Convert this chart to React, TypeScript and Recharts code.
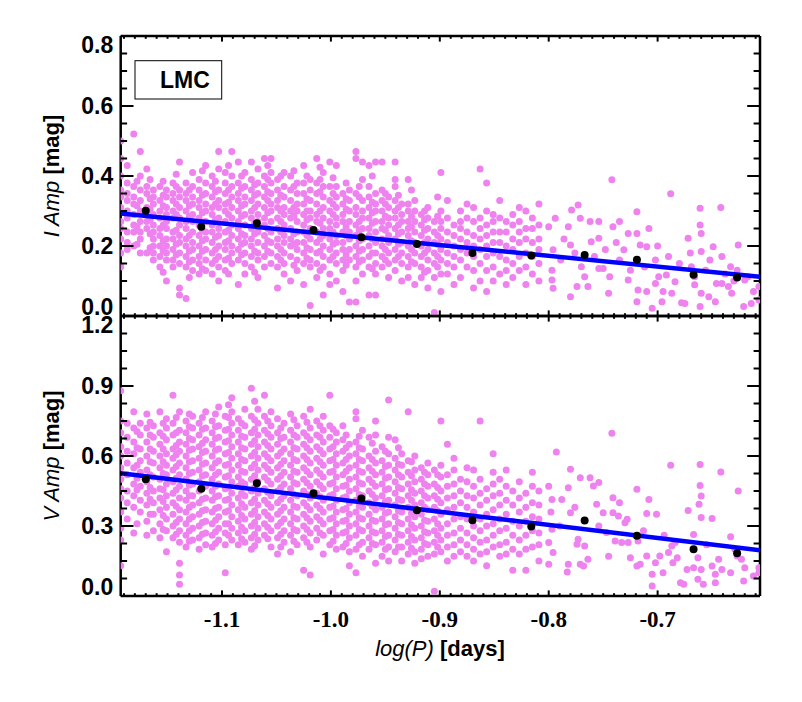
import { Scatter, ScatterChart, XAxis, YAxis } from 'recharts'

// log(P) axis range and ticks
const X_DOMAIN: [number, number] = [-1.193, -0.606]
const X_TICKS = Array.from({ length: 59 }, (_, i) => Math.round((-1.19 + i * 0.01) * 1000) / 1000)

const I_TICKS = Array.from({ length: 17 }, (_, i) => Math.round(i * 0.05 * 1000) / 1000)
const V_TICKS = Array.from({ length: 17 }, (_, i) => Math.round(i * 0.075 * 1000) / 1000)

// I amplitude, dense part: [logP, amp, amp, ...]
const I_COLS = [
  [-1.193, .50, .45, .40, .36, .34, .31, .27, .25, .22, .18, .14],
  [-1.187, .43, .38, .35, .33, .30, .28, .24, .21, .19],
  [-1.181, .52, .37, .34, .32, .29, .26, .24, .20],
  [-1.175, .47, .40, .36, .33, .30, .27, .24, .22, .18],
  [-1.169, .42, .37, .35, .31, .29, .27, .25, .18],
  [-1.163, .36, .34, .32, .29, .26, .24, .22, .20, .18, .16],
  [-1.157, .37, .33, .30, .28, .25, .23, .20, .17, .14],
  [-1.151, .36, .34, .31, .29, .27, .25, .22, .20, .18, .16, .10],
  [-1.145, .38, .35, .33, .30, .28, .24, .22, .19, .16, .14],
  [-1.139, .44, .36, .34, .31, .28, .26, .23, .21, .18, .15, .08, .06],
  [-1.133, .38, .35, .33, .30, .27, .25, .22, .20, .17, .14, .05],
  [-1.127, .41, .37, .34, .32, .29, .27, .24, .21, .19, .16, .13],
  [-1.121, .39, .36, .33, .31, .28, .26, .23, .20, .17, .15, .12],
  [-1.115, .43, .38, .35, .32, .30, .27, .24, .22, .19, .16, .13],
  [-1.109, .40, .37, .34, .31, .29, .26, .24, .21, .18, .15, .12],
  [-1.103, .47, .42, .36, .33, .31, .28, .25, .23, .20, .17, .14, .10],
  [-1.097, .41, .38, .35, .32, .30, .27, .24, .21, .19, .16, .13],
  [-1.091, .47, .40, .37, .34, .31, .28, .26, .23, .20, .18, .15],
  [-1.085, .44, .38, .35, .33, .30, .27, .25, .22, .19, .16, .09],
  [-1.079, .41, .37, .34, .32, .29, .26, .23, .21, .18, .15, .12],
  [-1.073, .44, .39, .36, .33, .30, .28, .25, .22, .20, .17, .14],
  [-1.067, .42, .38, .35, .32, .29, .27, .24, .21, .18, .16, .11],
  [-1.061, .45, .40, .37, .34, .31, .28, .26, .23, .20, .17, .14],
  [-1.055, .45, .41, .38, .35, .32, .30, .27, .24, .21, .18, .15],
  [-1.049, .39, .36, .33, .31, .28, .25, .22, .20, .17, .14, .08],
  [-1.043, .41, .37, .34, .31, .29, .26, .23, .21, .18, .15, .12],
  [-1.037, .40, .36, .33, .30, .28, .25, .22, .20, .17, .10],
  [-1.031, .38, .35, .32, .30, .27, .24, .21, .19, .16, .13],
  [-1.025, .43, .38, .35, .32, .29, .26, .24, .21, .18, .15, .09],
  [-1.019, .39, .36, .33, .30, .28, .25, .22, .19, .16, .14, .03],
  [-1.013, .45, .38, .35, .32, .29, .27, .24, .21, .18, .15, .11],
  [-1.007, .41, .37, .34, .31, .28, .25, .23, .20, .17, .14, .06],
  [-1.001, .44, .37, .33, .30, .27, .25, .22, .19, .16, .12, .09],
  [-0.995, .43, .37, .34, .31, .28, .26, .23, .21, .18, .15, .10],
  [-0.989, .35, .32, .29, .27, .24, .21, .19, .16, .13, .07],
  [-0.983, .36, .33, .30, .27, .24, .22, .19, .16, .04],
  [-0.977, .47, .45, .35, .31, .29, .26, .23, .20, .17, .14, .10, .04],
  [-0.971, .44, .39, .33, .30, .28, .25, .22, .19, .16, .12],
  [-0.965, .43, .37, .34, .31, .28, .25, .23, .20, .17, .14, .06],
  [-0.959, .44, .35, .32, .30, .27, .24, .21, .18, .15, .12, .06],
  [-0.953, .44, .36, .33, .30, .27, .25, .22, .20, .17, .14],
  [-0.947, .34, .31, .28, .26, .23, .21, .18, .15, .11],
  [-0.941, .44, .39, .37, .33, .30, .28, .25, .22, .19, .16, .13],
  [-0.935, .32, .29, .27, .24, .21, .18, .15, .10],
  [-0.929, .39, .32, .30, .27, .25, .23, .20, .17, .14, .11],
  [-0.923, .33, .30, .27, .24, .21, .18, .15, .09],
  [-0.917, .29, .26, .23, .20, .17, .14, .11],
  [-0.911, .31, .28, .25, .22, .19, .16, .13, .08],
  [-0.905, .27, .24, .21, .18, .15, .11, .01],
  [-0.899, .41, .30, .27, .25, .22, .19, .16, .12, .07],
  [-0.893, .33, .28, .24, .21, .18, .15, .12],
  [-0.887, .26, .23, .20, .17, .14, .09],
  [-0.881, .30, .27, .25, .22, .19, .16, .11],
  [-0.875, .32, .28, .24, .21, .18, .14],
  [-0.869, .31, .27, .23, .20, .17, .13, .08],
  [-0.863, .42, .28, .25, .22, .19, .15, .10],
  [-0.857, .38, .30, .26, .23, .20, .17, .13, .07],
  [-0.851, .29, .27, .24, .21, .18, .14, .10],
  [-0.845, .33, .28, .24, .21, .17, .12],
  [-0.839, .27, .24, .20, .16, .13, .09],
  [-0.833, .29, .26, .22, .19, .15, .11],
  [-0.827, .31, .27, .24, .21, .17, .13],
  [-0.821, .30, .25, .22, .18, .14, .09],
  [-0.815, .28, .25, .21, .17, .12],
  [-0.809, .32, .26, .22, .19, .15, .10],
]

// I amplitude, extra stars packed in the crowded core: [logP, amp, amp, ...]
const I_CORE = [
  [-1.178, .385, .315, .255, .205],
  [-1.166, .39, .335, .305, .275, .235, .195],
  [-1.154, .385, .345, .315, .26, .215, .185, .125],
  [-1.142, .405, .37, .32, .29, .245, .205, .175],
  [-1.130, .36, .315, .285, .23, .185, .155, .11],
  [-1.118, .415, .345, .295, .245, .215, .185, .135],
  [-1.106, .385, .355, .32, .275, .225, .19, .16],
  [-1.094, .43, .36, .325, .29, .245, .215, .165, .12],
  [-1.082, .40, .365, .315, .285, .235, .205, .175],
  [-1.070, .375, .345, .31, .265, .235, .185, .125],
  [-1.058, .43, .39, .355, .33, .295, .25, .215, .185],
  [-1.046, .40, .345, .30, .27, .24, .19, .16],
  [-1.034, .415, .37, .31, .285, .235, .205, .145],
  [-1.022, .40, .335, .30, .275, .23, .195, .165],
  [-1.010, .425, .39, .355, .30, .265, .22, .185, .13],
  [-0.998, .395, .35, .32, .29, .24, .205, .17],
  [-0.986, .38, .335, .305, .255, .23, .175, .145],
  [-0.974, .37, .34, .27, .245, .215, .185, .155],
  [-0.962, .40, .325, .295, .265, .22, .18, .135],
  [-0.950, .35, .32, .285, .245, .19, .16],
  [-0.938, .345, .31, .26, .235, .205, .17],
  [-0.926, .36, .285, .255, .215, .19, .155],
  [-0.914, .30, .275, .245, .21, .18, .125],
  [-0.902, .34, .285, .23, .205, .17, .14],
]

// I amplitude, sparse long-period stars: [logP, amp]
const I_RIGHT = [
  [-0.800, .255], [-0.794, .279], [-0.796, .189], [-0.797, .131], [-0.797, .103], [-0.796, .079],
  [-0.789, .16], [-0.786, .22], [-0.776, .18],
  [-0.782, .255], [-0.779, .303], [-0.780, .203], [-0.773, .317], [-0.771, .279], [-0.770, .141],
  [-0.767, .112], [-0.774, .084], [-0.780, .055],
  [-0.762, .27], [-0.754, .27], [-0.761, .212], [-0.754, .222], [-0.764, .084], [-0.754, .136],
  [-0.750, .136], [-0.744, .112], [-0.745, .065], [-0.742, .389], [-0.741, .255], [-0.735, .27],
  [-0.731, .189], [-0.735, .16], [-0.758, .17], [-0.748, .19], [-0.738, .21],
  [-0.727, .236], [-0.725, .131], [-0.727, .103], [-0.719, .298], [-0.719, .236], [-0.716, .203],
  [-0.710, .198], [-0.708, .25], [-0.718, .074], [-0.719, .041], [-0.710, .07], [-0.705, .022],
  [-0.702, .16], [-0.702, .093], [-0.696, .041], [-0.695, .07], [-0.699, .112], [-0.690, .17],
  [-0.692, .117], [-0.687, .065], [-0.684, .098], [-0.712, .14], [-0.700, .20],
  [-0.688, .349], [-0.678, .038], [-0.675, .036], [-0.672, .222], [-0.669, .141], [-0.666, .089],
  [-0.661, .308], [-0.661, .26], [-0.660, .236], [-0.660, .184], [-0.666, .112], [-0.660, .065],
  [-0.661, .027], [-0.656, .131], [-0.649, .198], [-0.646, .093], [-0.653, .055], [-0.647, .041],
  [-0.680, .15], [-0.670, .18], [-0.652, .16],
  [-0.642, .31], [-0.641, .17], [-0.633, .141], [-0.635, .084], [-0.641, .093], [-0.632, .065],
  [-0.626, .203], [-0.627, .131], [-0.621, .027], [-0.614, .036], [-0.607, .084], [-0.607, .046],
  [-0.617, .112], [-0.620, .103], [-0.638, .12], [-0.630, .10], [-0.612, .07],
]

// V amplitude, dense part: [logP, amp, amp, ...]
const V_COLS = [
  [-1.193, .88, .75, .70, .64, .60, .55, .50, .46, .42, .36, .29, .24, .13],
  [-1.187, .74, .68, .62, .57, .52, .45, .40, .33],
  [-1.181, .79, .72, .66, .61, .55, .48, .43, .38, .27],
  [-1.175, .74, .69, .63, .58, .53, .47, .41, .36],
  [-1.169, .78, .72, .66, .60, .54, .49, .44, .39, .32, .26],
  [-1.163, .73, .68, .62, .57, .51, .45, .40, .35, .28],
  [-1.157, .79, .70, .65, .60, .55, .50, .46, .42, .37, .31, .25],
  [-1.151, .76, .72, .67, .61, .56, .52, .48, .43, .38, .33, .28, .19],
  [-1.145, .86, .74, .69, .63, .59, .54, .49, .44, .40, .35, .30, .25],
  [-1.139, .79, .71, .66, .62, .57, .52, .47, .42, .37, .33, .28, .23, .14, .09, .05],
  [-1.133, .75, .70, .65, .60, .55, .50, .45, .41, .36, .31, .26, .21],
  [-1.127, .77, .72, .67, .63, .58, .53, .48, .43, .39, .34, .29, .24],
  [-1.121, .74, .69, .64, .59, .54, .49, .45, .40, .35, .30, .25, .20],
  [-1.115, .79, .72, .67, .62, .57, .52, .47, .42, .37, .32, .27, .22],
  [-1.109, .75, .70, .65, .60, .55, .50, .45, .41, .36, .31, .26, .21],
  [-1.103, .81, .73, .68, .63, .58, .53, .48, .43, .38, .34, .29, .24],
  [-1.097, .77, .71, .66, .61, .56, .51, .46, .41, .36, .31, .27, .22, .10],
  [-1.091, .85, .79, .74, .69, .64, .59, .54, .49, .44, .39, .34, .29, .24],
  [-1.085, .76, .71, .66, .61, .56, .51, .47, .42, .37, .32, .27, .22],
  [-1.079, .80, .73, .68, .63, .58, .53, .48, .43, .38, .33, .28, .23],
  [-1.073, .89, .77, .70, .65, .60, .55, .50, .45, .40, .35, .30, .25, .20],
  [-1.067, .80, .74, .69, .64, .59, .54, .49, .44, .39, .34, .29, .24],
  [-1.061, .86, .77, .71, .66, .61, .56, .51, .46, .41, .36, .31, .26],
  [-1.055, .79, .73, .68, .63, .58, .53, .48, .43, .38, .33, .28, .21],
  [-1.049, .76, .70, .65, .60, .55, .50, .45, .40, .35, .30, .25, .18],
  [-1.043, .74, .68, .63, .58, .53, .48, .43, .38, .33, .28, .23],
  [-1.037, .78, .71, .66, .61, .56, .51, .46, .41, .36, .31, .26, .19],
  [-1.031, .73, .68, .63, .58, .53, .48, .43, .38, .33, .28, .22],
  [-1.025, .77, .70, .65, .60, .55, .50, .45, .40, .35, .30, .25, .11],
  [-1.019, .80, .72, .67, .62, .57, .52, .47, .42, .37, .32, .27, .21, .09],
  [-1.013, .75, .69, .64, .59, .54, .49, .44, .39, .34, .29, .24],
  [-1.007, .77, .71, .66, .61, .56, .51, .46, .41, .36, .31, .26, .18],
  [-1.001, .86, .73, .68, .63, .58, .53, .48, .43, .38, .33, .28, .22],
  [-0.995, .70, .66, .61, .56, .51, .46, .41, .36, .31, .26, .20],
  [-0.989, .73, .67, .62, .57, .52, .47, .42, .37, .32, .27, .21],
  [-0.983, .65, .60, .55, .50, .45, .40, .35, .30, .25, .19, .13],
  [-0.977, .79, .76, .66, .61, .56, .51, .46, .41, .36, .31, .26, .20, .10],
  [-0.971, .71, .63, .58, .53, .48, .43, .38, .33, .28, .23, .17],
  [-0.965, .68, .60, .55, .50, .45, .40, .35, .30, .25, .20],
  [-0.959, .75, .69, .62, .57, .52, .47, .42, .37, .32, .27, .22, .14],
  [-0.953, .64, .58, .53, .48, .43, .38, .33, .28, .23, .17],
  [-0.947, .84, .68, .61, .56, .51, .46, .41, .36, .31, .26, .21, .15],
  [-0.941, .67, .59, .54, .49, .44, .39, .34, .29, .24, .19],
  [-0.935, .61, .56, .51, .46, .41, .36, .31, .26, .21, .15],
  [-0.929, .79, .58, .53, .48, .43, .38, .33, .28, .23, .18],
  [-0.923, .60, .54, .49, .44, .39, .34, .29, .24, .19, .14],
  [-0.917, .55, .50, .45, .40, .35, .30, .25, .20, .16],
  [-0.911, .57, .52, .47, .42, .37, .32, .27, .22, .17],
  [-0.905, .54, .48, .43, .38, .33, .28, .23, .18, .02],
  [-0.899, .75, .56, .51, .45, .40, .35, .29, .24, .19],
  [-0.893, .65, .52, .47, .42, .37, .31, .26, .21, .15],
  [-0.887, .59, .54, .48, .43, .38, .33, .27, .22, .17],
  [-0.881, .50, .45, .40, .34, .29, .24, .19],
  [-0.875, .55, .49, .43, .38, .33, .27, .22, .17],
  [-0.869, .54, .47, .42, .36, .30, .25, .20, .15],
  [-0.863, .75, .50, .44, .39, .33, .28, .23, .18],
  [-0.857, .46, .41, .35, .30, .24, .19, .13],
  [-0.851, .61, .53, .48, .43, .37, .31, .26, .21],
  [-0.845, .50, .44, .39, .33, .28, .22, .17],
  [-0.839, .54, .47, .41, .35, .29, .23, .18],
  [-0.833, .45, .39, .32, .26, .20, .11],
  [-0.827, .49, .42, .36, .30, .24, .18],
  [-0.821, .44, .38, .32, .26, .20, .11],
  [-0.815, .53, .47, .40, .34, .28, .21],
  [-0.809, .45, .39, .33, .27, .22, .15],
]

// V amplitude, extra stars packed in the crowded core: [logP, amp, amp, ...]
const V_CORE = [
  [-1.178, .705, .635, .56, .505, .455, .31],
  [-1.166, .745, .69, .63, .575, .52, .465, .415, .35],
  [-1.154, .74, .685, .63, .575, .525, .455, .405, .345, .285],
  [-1.142, .765, .70, .645, .605, .555, .505, .455, .385, .315, .265],
  [-1.130, .78, .725, .675, .625, .575, .525, .475, .43, .38, .33, .28, .235],
  [-1.118, .765, .715, .655, .615, .565, .515, .465, .415, .365, .315, .265],
  [-1.106, .78, .725, .675, .625, .57, .52, .47, .425, .375, .325, .275, .225],
  [-1.094, .82, .765, .715, .665, .615, .565, .515, .465, .415, .365, .31, .26],
  [-1.082, .74, .685, .635, .585, .535, .49, .44, .395, .345, .295, .245],
  [-1.070, .835, .755, .715, .665, .615, .565, .515, .465, .415, .365, .315, .265, .215],
  [-1.058, .75, .695, .645, .595, .545, .495, .445, .395, .345, .295, .245],
  [-1.046, .72, .675, .615, .565, .515, .465, .415, .365, .315, .265, .21],
  [-1.034, .755, .69, .635, .585, .535, .485, .435, .385, .335, .285, .235],
  [-1.022, .745, .685, .635, .585, .535, .485, .435, .385, .335, .285, .23],
  [-1.010, .73, .68, .625, .575, .525, .475, .425, .375, .325, .27],
  [-0.998, .715, .64, .585, .535, .485, .435, .385, .335, .285, .235],
  [-0.986, .69, .635, .585, .535, .475, .425, .375, .325, .275, .225],
  [-0.974, .685, .635, .585, .535, .485, .435, .385, .335, .285, .22],
  [-0.962, .655, .585, .535, .485, .435, .385, .325, .275, .225],
  [-0.950, .62, .555, .505, .455, .405, .355, .305, .255, .20],
  [-0.938, .635, .565, .52, .465, .415, .365, .315, .265, .21],
  [-0.926, .575, .515, .455, .41, .355, .305, .255, .205],
  [-0.914, .53, .48, .43, .38, .325, .275, .225],
  [-0.902, .52, .465, .415, .365, .31, .26, .21],
]

// V amplitude, sparse long-period stars: [logP, amp]
const V_RIGHT = [
  [-0.800, .47], [-0.798, .36], [-0.793, .617], [-0.780, .543], [-0.771, .507], [-0.762, .507],
  [-0.754, .486], [-0.759, .471], [-0.782, .464], [-0.797, .414], [-0.788, .414], [-0.780, .357],
  [-0.756, .393], [-0.750, .357], [-0.741, .421], [-0.735, .40], [-0.741, .357], [-0.736, .343],
  [-0.728, .329], [-0.730, .314], [-0.719, .457], [-0.708, .414], [-0.710, .354], [-0.701, .35],
  [-0.688, .56], [-0.661, .564], [-0.642, .531], [-0.661, .474], [-0.660, .429], [-0.662, .393],
  [-0.672, .366], [-0.660, .336], [-0.650, .332], [-0.626, .45], [-0.633, .254], [-0.667, .264],
  [-0.742, .697],
  [-0.797, .286], [-0.800, .229], [-0.796, .186], [-0.800, .136], [-0.773, .243], [-0.774, .222],
  [-0.767, .214], [-0.764, .157], [-0.771, .136], [-0.782, .136], [-0.783, .103], [-0.768, .129],
  [-0.754, .30], [-0.747, .272], [-0.739, .236], [-0.745, .17], [-0.733, .229], [-0.727, .229],
  [-0.725, .164], [-0.718, .236], [-0.719, .129], [-0.716, .136], [-0.710, .171], [-0.705, .093],
  [-0.705, .043], [-0.702, .143], [-0.698, .171], [-0.695, .10], [-0.690, .186], [-0.687, .214],
  [-0.684, .229], [-0.682, .164], [-0.686, .143], [-0.679, .057], [-0.676, .05], [-0.673, .114],
  [-0.667, .121], [-0.663, .164], [-0.663, .072], [-0.660, .114], [-0.658, .05], [-0.650, .129],
  [-0.647, .093], [-0.644, .157], [-0.647, .057], [-0.641, .114], [-0.633, .10], [-0.627, .171],
  [-0.629, .20], [-0.623, .157], [-0.620, .121], [-0.621, .064], [-0.612, .086], [-0.607, .121],
  [-0.607, .10], [-0.790, .30], [-0.776, .38], [-0.713, .28], [-0.694, .26], [-0.655, .22],
]

// binned means
const BIN_LOGP = [-1.170, -1.119, -1.068, -1.016, -0.972, -0.921, -0.870, -0.816, -0.767, -0.719, -0.667, -0.627]
const I_BIN = [.301, .255, .265, .246, .225, .206, .180, .173, .174, .161, .118, .110]
const V_BIN = [.500, .460, .483, .440, .418, .367, .325, .298, .324, .258, .200, .183]

// linear fits
const FIT_LOGP = [-1.193, -0.606]
const I_FIT = [.293, .112]
const V_FIT = [.526, .196]

const PINK = '#EE82EE'
const SANS = "'Liberation Sans', Arial, Helvetica, sans-serif"
const SERIF = "'Liberation Serif', 'Times New Roman', serif"

const cols = (rows: number[][]) => rows.flatMap(([x, ...ys]) => ys.map((y) => ({ x, y })))
const pairs = (rows: number[][]) => rows.map(([x, y]) => ({ x, y }))
const zip = (xs: number[], ys: number[]) => xs.map((x, i) => ({ x, y: ys[i] }))

const I_PTS = [...cols(I_COLS), ...cols(I_CORE), ...pairs(I_RIGHT)]
const V_PTS = [...cols(V_COLS), ...cols(V_CORE), ...pairs(V_RIGHT)]

const isMultiple = (v: number, step: number) => Math.abs(v / step - Math.round(v / step)) < 1e-6

function XTick(props: any) {
  const { x, y, payload, side, showLabel } = props
  const v = payload.value as number
  const major = isMultiple(v, 0.1)
  const len = major ? 5.6 : 2.8
  const dir = side === 'bottom' ? -1 : 1
  return (
    <g>
      <line x1={x} x2={x} y1={y} y2={y + dir * len} stroke="#000" strokeWidth={2} />
      {showLabel && major && (
        <text x={x} y={y + 31} textAnchor="middle" fontFamily={SERIF} fontWeight="bold" fontSize={23} fill="#000">
          {v.toFixed(1)}
        </text>
      )}
    </g>
  )
}

function YTick(props: any) {
  const { x, y, payload, side, step, max, showLabel } = props
  const v = payload.value as number
  const major = isMultiple(v, step)
  const len = major ? 12.8 : 6.4
  const dir = side === 'left' ? 1 : -1
  // end labels are pulled inside the frame
  let dy = 8
  if (v === 0) dy -= 9
  if (Math.abs(v - max) < 1e-6) dy += 9
  return (
    <g>
      <line x1={x} x2={x + dir * len} y1={y} y2={y} stroke="#000" strokeWidth={2} />
      {showLabel && major && (
        <text x={x - 7.5} y={y + dy} textAnchor="end" fontFamily={SANS} fontWeight="bold" fontSize={23} fill="#000">
          {v.toFixed(1)}
        </text>
      )}
    </g>
  )
}

const PinkDot = (p: any) => <circle cx={p.cx} cy={p.cy} r={3.5} fill={PINK} />
const BlackDot = (p: any) => <circle cx={p.cx} cy={p.cy} r={4} fill="#000" />
const NoDot = () => <g />

const AXIS_LINE = { stroke: '#000', strokeWidth: 2.5 }

function Panel({
  points,
  bins,
  fit,
  yMax,
  yTicks,
  yStep,
  top,
  bottom,
  showXLabels
}: {
  points: { x: number; y: number }[]
  bins: { x: number; y: number }[]
  fit: { x: number; y: number }[]
  yMax: number
  yTicks: number[]
  yStep: number
  top: number
  bottom: number
  showXLabels: boolean
}) {
  // axes are 1px thick boxes, so the margins leave room for them
  return (
    <div style={{ position: 'absolute', left: 0, top: 0 }}>
      <ScatterChart width={802} height={702} margin={{ top: top - 1, right: 41, bottom: bottom - 1, left: 119.7 }}>
        <XAxis
          type="number"
          dataKey="x"
          domain={X_DOMAIN}
          allowDataOverflow
          ticks={X_TICKS}
          interval={0}
          height={1}
          tickSize={0}
          tickMargin={0}
          tickLine={false}
          axisLine={AXIS_LINE}
          tick={(p: any) => <XTick {...p} side="bottom" showLabel={showXLabels} />}
        />
        <XAxis
          xAxisId="top"
          orientation="top"
          type="number"
          dataKey="x"
          domain={X_DOMAIN}
          allowDataOverflow
          ticks={X_TICKS}
          interval={0}
          height={1}
          tickSize={0}
          tickMargin={0}
          tickLine={false}
          axisLine={AXIS_LINE}
          tick={(p: any) => <XTick {...p} side="top" showLabel={false} />}
        />
        <YAxis
          type="number"
          dataKey="y"
          domain={[0, yMax]}
          allowDataOverflow
          ticks={yTicks}
          interval={0}
          width={1}
          tickSize={0}
          tickMargin={0}
          tickLine={false}
          axisLine={AXIS_LINE}
          tick={(p: any) => <YTick {...p} side="left" step={yStep} max={yMax} showLabel />}
        />
        <YAxis
          yAxisId="right"
          orientation="right"
          type="number"
          dataKey="y"
          domain={[0, yMax]}
          allowDataOverflow
          ticks={yTicks}
          interval={0}
          width={1}
          tickSize={0}
          tickMargin={0}
          tickLine={false}
          axisLine={AXIS_LINE}
          tick={(p: any) => <YTick {...p} side="right" step={yStep} max={yMax} showLabel={false} />}
        />
        <Scatter data={points} shape={PinkDot} isAnimationActive={false} />
        <Scatter
          data={fit}
          shape={NoDot}
          line={{ stroke: '#0000FF', strokeWidth: 4.5 }}
          isAnimationActive={false}
        />
        <Scatter data={bins} shape={BlackDot} isAnimationActive={false} />
      </ScatterChart>
    </div>
  )
}

export default function App() {
  return (
    <div style={{ position: 'absolute', left: 0, top: 0, width: 802, height: 702, background: '#fff' }}>
      <Panel
        points={I_PTS}
        bins={zip(BIN_LOGP, I_BIN)}
        fit={zip(FIT_LOGP, I_FIT)}
        yMax={0.8}
        yTicks={I_TICKS}
        yStep={0.2}
        top={36}
        bottom={386}
        showXLabels={false}
      />
      <Panel
        points={V_PTS}
        bins={zip(BIN_LOGP, V_BIN)}
        fit={zip(FIT_LOGP, V_FIT)}
        yMax={1.2}
        yTicks={V_TICKS}
        yStep={0.3}
        top={316}
        bottom={106}
        showXLabels
      />
      <svg width={802} height={702} style={{ position: 'absolute', left: 0, top: 0, pointerEvents: 'none' }}>
        <rect x={135} y={60.7} width={86.7} height={38.3} fill="#fff" stroke="#000" strokeWidth={1} />
        <text x={160} y={88} fontFamily={SANS} fontWeight="bold" fontSize={23} fill="#000">
          LMC
        </text>
        <text
          x={59}
          y={176}
          transform="rotate(-90 59 176)"
          textAnchor="middle"
          fontFamily={SANS}
          fontSize={22}
          fill="#000"
        >
          <tspan fontStyle="italic">I Amp</tspan>
          <tspan fontWeight="bold"> [mag]</tspan>
        </text>
        <text
          x={59}
          y={456}
          transform="rotate(-90 59 456)"
          textAnchor="middle"
          fontFamily={SANS}
          fontSize={22}
          fill="#000"
        >
          <tspan fontStyle="italic">V Amp</tspan>
          <tspan fontWeight="bold"> [mag]</tspan>
        </text>
        <text x={440} y={656} textAnchor="middle" fontFamily={SANS} fontSize={22} fill="#000">
          <tspan fontStyle="italic">log(P)</tspan>
          <tspan fontWeight="bold"> [days]</tspan>
        </text>
      </svg>
    </div>
  )
}
